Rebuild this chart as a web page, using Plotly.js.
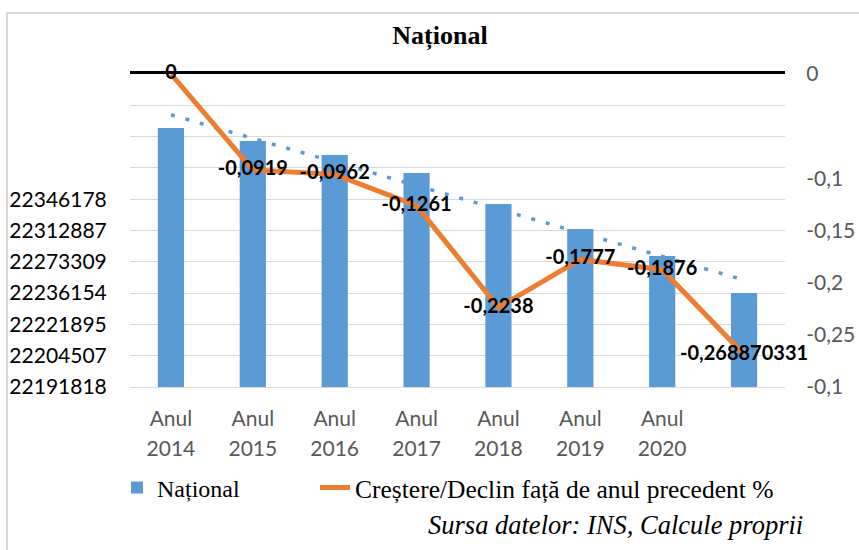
<!DOCTYPE html>
<html>
<head>
<meta charset="utf-8">
<script src="https://cdn.plot.ly/plotly-3.0.1.min.js"></script>
<style>html,body{margin:0;padding:0;background:#fff;}#chart{width:859px;height:550px;}</style>
</head>
<body>
<div id="chart"></div>
<script>
// ---- data ----
const years = ['2014', '2015', '2016', '2017', '2018', '2019', '2020', ''];
const populatie = [22396860, 22386480, 22375300, 22360920, 22336160, 22316190, 22294630, 22265080];
const crestere = [0, -0.0919, -0.0962, -0.1261, -0.2238, -0.1777, -0.1876, -0.268870331];
const leftTickLabels = ['22191818', '22204507', '22221895', '22236154', '22273309', '22312887', '22346178'];
const rightTickVals = [0, -0.1, -0.15, -0.2, -0.25, -0.3];
const rightTickText = ['0', '-0,1', '-0,15', '-0,2', '-0,25', '-0,1'];

// ---- derived ----
const xs = years.map((_, i) => i);
const n = xs.length;
const mx = xs.reduce((a, b) => a + b, 0) / n;
const my = populatie.reduce((a, b) => a + b, 0) / n;
let sxy = 0, sxx = 0;
xs.forEach((x, i) => { sxy += (x - mx) * (populatie[i] - my); sxx += (x - mx) * (x - mx); });
const slope = sxy / sxx;
const trendY = xs.map(x => my + slope * (x - mx));

const Y0 = 22190000, STEP = 25000;
const leftTickVals = [];
const leftTickTextAll = [];
for (let k = 0; k <= 10; k++) {
  leftTickVals.push(Y0 + k * STEP);
  leftTickTextAll.push(k < leftTickLabels.length ? leftTickLabels[k] : '');
}

const blue = '#5B9BD5', orange = '#ED7D31';
const sans = 'Lato, "Open Sans", sans-serif';
const serif = '"Liberation Serif", "Times New Roman", serif';

const traces = [
  {
    type: 'bar', x: xs, y: populatie, name: 'Național', legend: 'legend',
    marker: {color: blue}, xaxis: 'x', yaxis: 'y', hoverinfo: 'none'
  },
  {
    type: 'scatter', mode: 'lines', x: xs, y: trendY, showlegend: false,
    line: {color: blue, width: 3.5, dash: '4px,11px'}, xaxis: 'x', yaxis: 'y', hoverinfo: 'none'
  },
  {
    type: 'scatter', mode: 'lines+text', x: xs, y: crestere, legend: 'legend2',
    name: 'Creștere/Declin față de anul precedent %',
    text: crestere.map(v => String(v).replace('.', ',')),
    textposition: 'middle center',
    textfont: {family: sans, size: 20, color: '#000', weight: 'bold'},
    line: {color: orange, width: 5}, xaxis: 'x', yaxis: 'y2', hoverinfo: 'none', cliponaxis: false
  },
  // invisible carriers so the helper axes are drawn
  {type: 'scatter', mode: 'lines', x: xs, y: crestere, xaxis: 'x2', yaxis: 'y2', opacity: 0, showlegend: false, hoverinfo: 'none'},
  {type: 'scatter', mode: 'lines', x: xs, y: crestere, xaxis: 'x3', yaxis: 'y2', opacity: 0, showlegend: false, hoverinfo: 'none'}
];

const xrange = [-0.5, n - 0.5];
const layout = {
  width: 859, height: 550,
  margin: {l: 130, r: 74, t: 74, b: 163},
  paper_bgcolor: '#fff', plot_bgcolor: '#fff',
  showlegend: true,
  bargap: 0.68,
  title: {text: '<b>Național</b>', x: 440 / 859, xanchor: 'center', y: 1 - 35 / 550, yanchor: 'middle',
          font: {family: serif, size: 26, color: '#000'}},
  xaxis: {
    range: xrange, tickmode: 'array', tickvals: xs,
    ticktext: years.map(y => y ? 'Anul' : ''),
    ticks: 'outside', ticklen: 13, tickcolor: 'rgba(0,0,0,0)',
    tickfont: {family: sans, size: 21, color: '#595959'},
    showgrid: false, zeroline: false, showline: true, linecolor: '#D9D9D9', linewidth: 1
  },
  xaxis2: {
    overlaying: 'x', anchor: 'y', side: 'top', range: xrange,
    showticklabels: false, ticks: '', showgrid: false, zeroline: false,
    showline: true, linecolor: '#000', linewidth: 3
  },
  xaxis3: {
    overlaying: 'x', anchor: 'y', side: 'bottom', range: xrange,
    tickmode: 'array', tickvals: xs, ticktext: years,
    ticks: 'outside', ticklen: 43, tickcolor: 'rgba(0,0,0,0)',
    tickfont: {family: sans, size: 21, color: '#595959'},
    showgrid: false, zeroline: false, showline: false
  },
  yaxis: {
    range: [Y0, Y0 + 10 * STEP], tickmode: 'array', tickvals: leftTickVals, ticktext: leftTickTextAll,
    ticks: 'outside', ticklen: 18, tickcolor: 'rgba(0,0,0,0)',
    tickfont: {family: sans, size: 21, color: '#000'},
    showgrid: true, gridcolor: '#D9D9D9', gridwidth: 1, zeroline: false, showline: false
  },
  yaxis2: {
    overlaying: 'y', side: 'right', anchor: 'x', range: [-0.3, 0],
    tickmode: 'array', tickvals: rightTickVals, ticktext: rightTickText,
    ticks: 'outside', ticklen: 16, tickcolor: 'rgba(0,0,0,0)',
    tickfont: {family: sans, size: 21, color: '#595959'},
    showgrid: false, zeroline: false, showline: false
  },
  legend: {
    orientation: 'h', x: (117 - 130) / 655, xanchor: 'left', y: (387 - 488) / 313, yanchor: 'middle',
    font: {family: serif, size: 24, color: '#000'}, bgcolor: 'rgba(0,0,0,0)'
  },
  legend2: {
    orientation: 'h', x: (315 - 130) / 655, xanchor: 'left', y: (387 - 488) / 313, yanchor: 'middle',
    font: {family: serif, size: 25.5, color: '#000'}, bgcolor: 'rgba(0,0,0,0)'
  },
  annotations: [{
    xref: 'paper', yref: 'paper', x: (805 - 130) / 655, y: (387 - 525) / 313,
    xanchor: 'right', yanchor: 'middle', showarrow: false,
    text: '<i>Sursa datelor: INS, Calcule proprii</i>',
    font: {family: serif, size: 26.5, color: '#000'}
  }],
  shapes: [{
    type: 'rect', xref: 'paper', yref: 'paper', layer: 'below',
    x0: (7 - 130) / 655, x1: 1.3, y0: -1, y1: (387 - 13) / 313,
    line: {color: '#D9D9D9', width: 2}, fillcolor: 'rgba(0,0,0,0)'
  }]
};

Plotly.newPlot('chart', traces, layout, {displayModeBar: false, staticPlot: true});
</script>
</body>
</html>
